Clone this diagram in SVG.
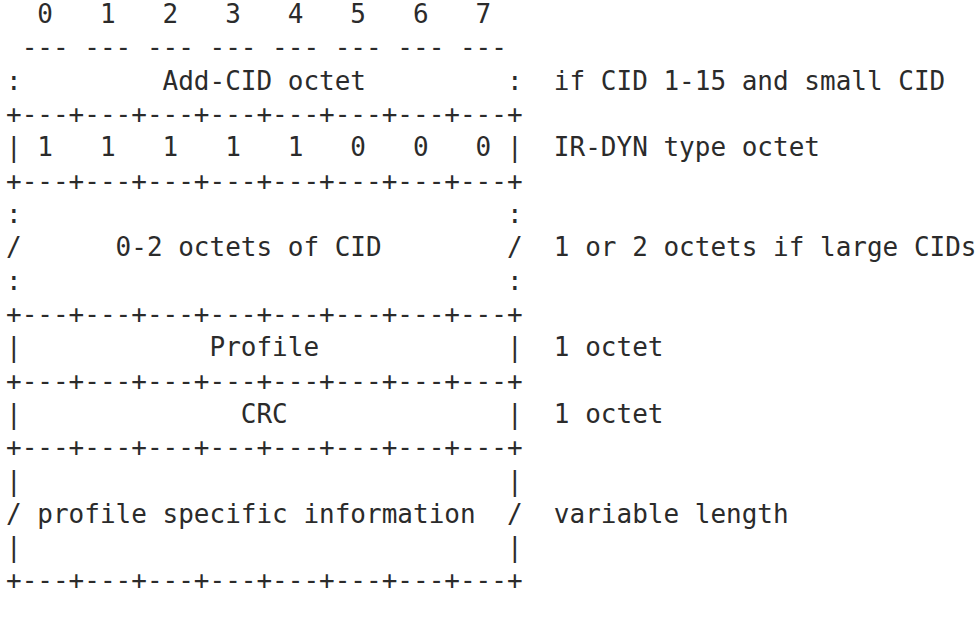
<svg xmlns="http://www.w3.org/2000/svg" width="977" height="634" viewBox="0 0 977 634">
<style>
text{font-family:"DejaVu Sans Mono","Liberation Mono",monospace;font-size:26px;fill:#2b2b2b;white-space:pre}
</style>
<rect width="977" height="634" fill="#ffffff"/>
<g id="ascii-diagram">
<text x="6" y="23">  0   1   2   3   4   5   6   7</text>
<text x="6" y="56.3"> --- --- --- --- --- --- --- ---</text>
<text x="6" y="89.6">:         Add-CID octet         :  if CID 1-15 and small CID</text>
<text x="6" y="123">+---+---+---+---+---+---+---+---+</text>
<text x="6" y="156.3">| 1   1   1   1   1   0   0   0 |  IR-DYN type octet</text>
<text x="6" y="189.6">+---+---+---+---+---+---+---+---+</text>
<text x="6" y="222.9">:                               :</text>
<text x="6" y="256.2">/      0-2 octets of CID        /  1 or 2 octets if large CIDs</text>
<text x="6" y="289.6">:                               :</text>
<text x="6" y="322.9">+---+---+---+---+---+---+---+---+</text>
<text x="6" y="356.2">|            Profile            |  1 octet</text>
<text x="6" y="389.5">+---+---+---+---+---+---+---+---+</text>
<text x="6" y="422.8">|              CRC              |  1 octet</text>
<text x="6" y="456.2">+---+---+---+---+---+---+---+---+</text>
<text x="6" y="489.5">|                               |</text>
<text x="6" y="522.8">/ profile specific information  /  variable length</text>
<text x="6" y="556.1">|                               |</text>
<text x="6" y="589.4">+---+---+---+---+---+---+---+---+</text>
</g>
</svg>
